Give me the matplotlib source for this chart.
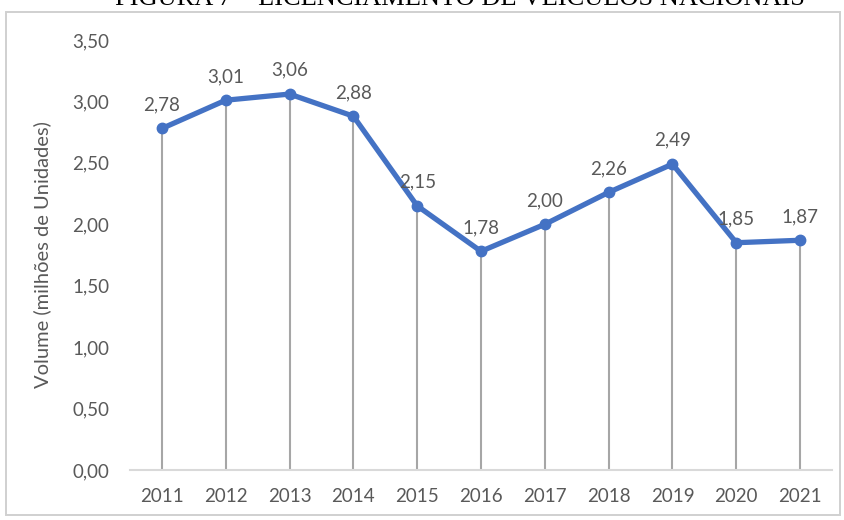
import matplotlib
matplotlib.use("Agg")
import matplotlib.pyplot as plt
from matplotlib.patches import Rectangle

years = ["2011", "2012", "2013", "2014", "2015", "2016", "2017", "2018", "2019", "2020", "2021"]
volumes = [2.78, 3.01, 3.06, 2.88, 2.15, 1.78, 2.00, 2.26, 2.49, 1.85, 1.87]
y_ticks = [0.0, 0.5, 1.0, 1.5, 2.0, 2.5, 3.0, 3.5]

title = "FIGURA 7 – LICENCIAMENTO DE VEÍCULOS NACIONAIS"
y_label = "Volume (milhões de Unidades)"

blue = "#4472C4"
text_gray = "#595959"
line_gray = "#A6A6A6"

fig = plt.figure(figsize=(8.44, 5.2), dpi=100)
fig.patch.set_facecolor("white")

# Chart frame
fig.patches.append(Rectangle((6 / 844, 5 / 520), 834 / 844, 503 / 520,
                             transform=fig.transFigure, fill=False,
                             edgecolor="#D0D0D0", linewidth=1.4))

# Figure caption sitting above the chart frame
fig.text(460 / 844, 1 - 5 / 520, title, ha="center", va="baseline",
         fontsize=19, family="Liberation Serif", color="black")

ax = fig.add_axes([130 / 844, 1 - 470 / 520, 702 / 844, 430 / 520])
x = list(range(len(years)))

ax.vlines(x, 0, volumes, colors=line_gray, linewidth=1.5, zorder=1)
ax.plot(x, volumes, color=blue, linewidth=3.8, marker="o", markersize=7.5,
        markerfacecolor=blue, markeredgecolor=blue, zorder=3,
        solid_capstyle="round", solid_joinstyle="round")

for xi, v in zip(x, volumes):
    ax.annotate(f"{v:.2f}".replace(".", ","), (xi, v), textcoords="offset points",
                xytext=(0, 11), ha="center", va="bottom", fontsize=13.5,
                family="Lato", color=text_gray, zorder=4)

ax.set_xlim(-0.5, len(years) - 0.5)
ax.set_ylim(0, 3.5)
ax.set_xticks(x)
ax.set_xticklabels(years)
ax.set_yticks(y_ticks)
ax.set_yticklabels([f"{t:.2f}".replace(".", ",") for t in y_ticks])
ax.tick_params(axis="both", length=0, labelsize=13.5, labelcolor=text_gray)
ax.tick_params(axis="x", pad=13)
ax.tick_params(axis="y", pad=15)
for lbl in ax.get_xticklabels() + ax.get_yticklabels():
    lbl.set_family("Lato")

for side in ["top", "right", "left"]:
    ax.spines[side].set_visible(False)
ax.spines["bottom"].set_color("#D9D9D9")
ax.spines["bottom"].set_linewidth(1.5)

ax.set_ylabel(y_label, fontsize=14.5, family="Lato", color=text_gray)
ax.yaxis.set_label_coords(-0.112, 0.5)

fig.savefig("out.png", dpi=100)
